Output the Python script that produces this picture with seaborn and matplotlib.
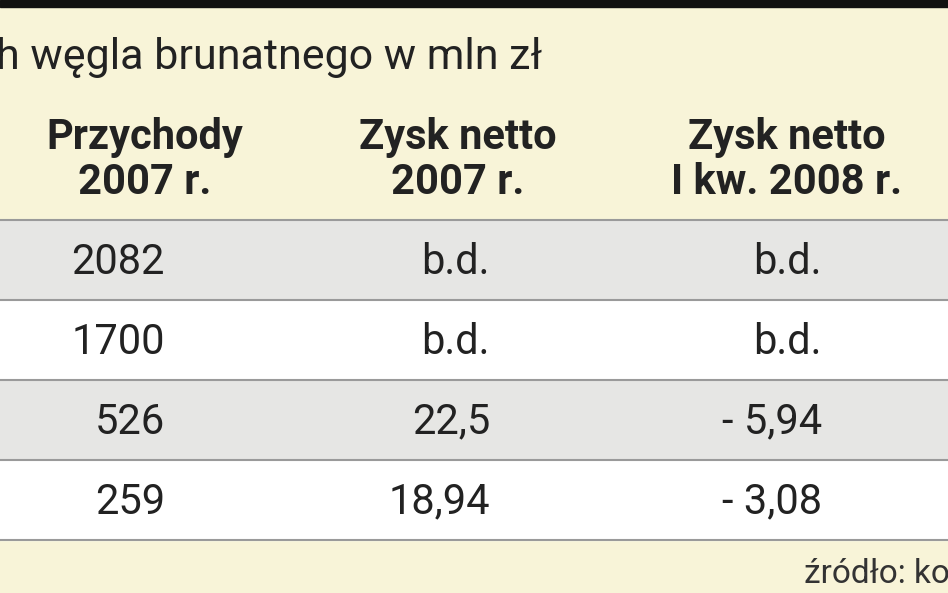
import matplotlib
matplotlib.use("Agg")
import matplotlib.pyplot as plt
import seaborn as sns

sns.set_theme(style="white")
plt.rcParams['font.family'] = ['Roboto', 'DejaVu Sans']

title = "h węgla brunatnego w mln zł"
headers = ["Przychody\n2007 r.", "Zysk netto\n2007 r.", "Zysk netto\nI kw. 2008 r."]
col1 = ["2082", "1700", "526", "259"]
col2 = ["b.d.", "b.d.", "22,5", "18,94"]
col3 = ["b.d.", "b.d.", "- 5,94", "- 3,08"]
source = "źródło: ko"

W, H = 948, 593
fig = plt.figure(figsize=(W/100, H/100), dpi=100)
fig.patch.set_facecolor("#f8f4d8")
ax = fig.add_axes([0, 0, 1, 1])
ax.set_xlim(0, W); ax.set_ylim(H, 0); ax.axis("off")

ax.axhspan(0, 7, color="#111111")
ax.text(-4, 58, title, fontsize=31, va="center", ha="left", color="#222222")

hdr_x = [145, 458, 787]
for x, h in zip(hdr_x, headers):
    ax.text(x, 160, h, fontsize=30, fontweight="bold", ha="center", va="center",
            color="#222222", linespacing=1.15)

row_top, row_h = 220, 80
val_x = [165, 490, 822]
for i, vals in enumerate(zip(col1, col2, col3)):
    y0 = row_top + i * row_h
    ax.axhspan(y0, y0 + row_h, color="#e6e6e4" if i % 2 == 0 else "#ffffff")
    ax.axhline(y0, color="#9a9a9a", lw=1.5)
    for x, v in zip(val_x, vals):
        ax.text(x, y0 + row_h/2 + 2, v, fontsize=30, ha="right", va="center", color="#222222")
ax.axhline(row_top + 4*row_h, color="#9a9a9a", lw=1.5)

ax.text(950, 574, source, fontsize=24, ha="right", va="center", color="#333333")
fig.savefig("out.png", dpi=100, facecolor=fig.get_facecolor())
